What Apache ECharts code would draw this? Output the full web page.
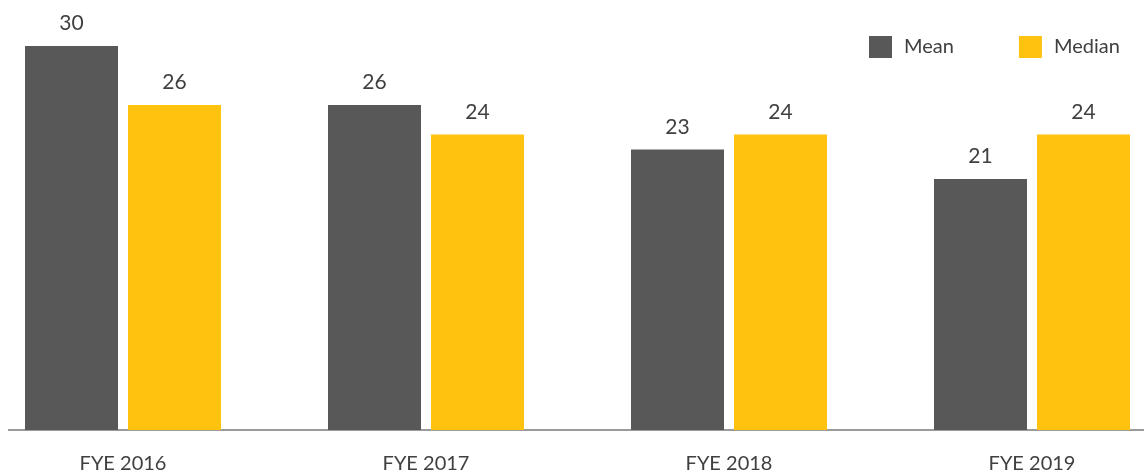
<!DOCTYPE html>
<html>
<head>
<meta charset="utf-8">
<script src="https://cdn.jsdelivr.net/npm/echarts@6/dist/echarts.min.js"></script>
<style>
  html, body { margin: 0; padding: 0; background: #fff; }
  #chart { width: 1144px; height: 470px; }
</style>
</head>
<body>
<div id="chart"></div>
<script>
const categories = ['FYE 2016', 'FYE 2017', 'FYE 2018', 'FYE 2019']
const meanValues = [30, 26, 23, 21]
const medianValues = [26, 24, 24, 24]

const textColor = '#404040'
const fontFamily = 'Lato, "Open Sans", sans-serif'

const chart = echarts.init(document.getElementById('chart'))

const labelStyle = {
  show: true,
  position: 'top',
  distance: 12,
  color: textColor,
  fontSize: 21,
  fontFamily: fontFamily,
}

const option = {
  animation: false,
  grid: {
    left: -28.5,
    right: -39.5,
    top: 46,
    bottom: 40,
    containLabel: false,
    outerBoundsMode: 'none',
  },
  legend: {
    left: 864,
    top: 31,
    itemWidth: 23,
    itemHeight: 22,
    itemGap: 65,
    icon: 'rect',
    textStyle: {
      color: textColor,
      fontSize: 20,
      fontFamily: fontFamily,
      padding: [0, 0, 0, 7],
    },
    data: ['Mean', 'Median'],
  },
  xAxis: {
    type: 'category',
    data: categories,
    axisLine: { show: false },
    axisTick: { show: false },
    axisLabel: {
      color: textColor,
      fontSize: 20,
      fontFamily: fontFamily,
      margin: 24,
    },
  },
  yAxis: {
    type: 'value',
    min: 4,
    max: 30,
    show: false,
    splitLine: { show: false },
  },
  graphic: [
    {
      type: 'line',
      shape: { x1: 8, y1: 430, x2: 1144, y2: 430 },
      style: { stroke: '#7a7a7a', lineWidth: 1.5 },
    },
  ],
  series: [
    {
      name: 'Mean',
      type: 'bar',
      data: meanValues,
      barWidth: 93,
      barGap: '10.75%',
      itemStyle: { color: '#585858' },
      label: labelStyle,
    },
    {
      name: 'Median',
      type: 'bar',
      data: medianValues,
      barWidth: 93,
      itemStyle: { color: '#FFC20F' },
      label: labelStyle,
    },
  ],
}

chart.setOption(option)
</script>
</body>
</html>
